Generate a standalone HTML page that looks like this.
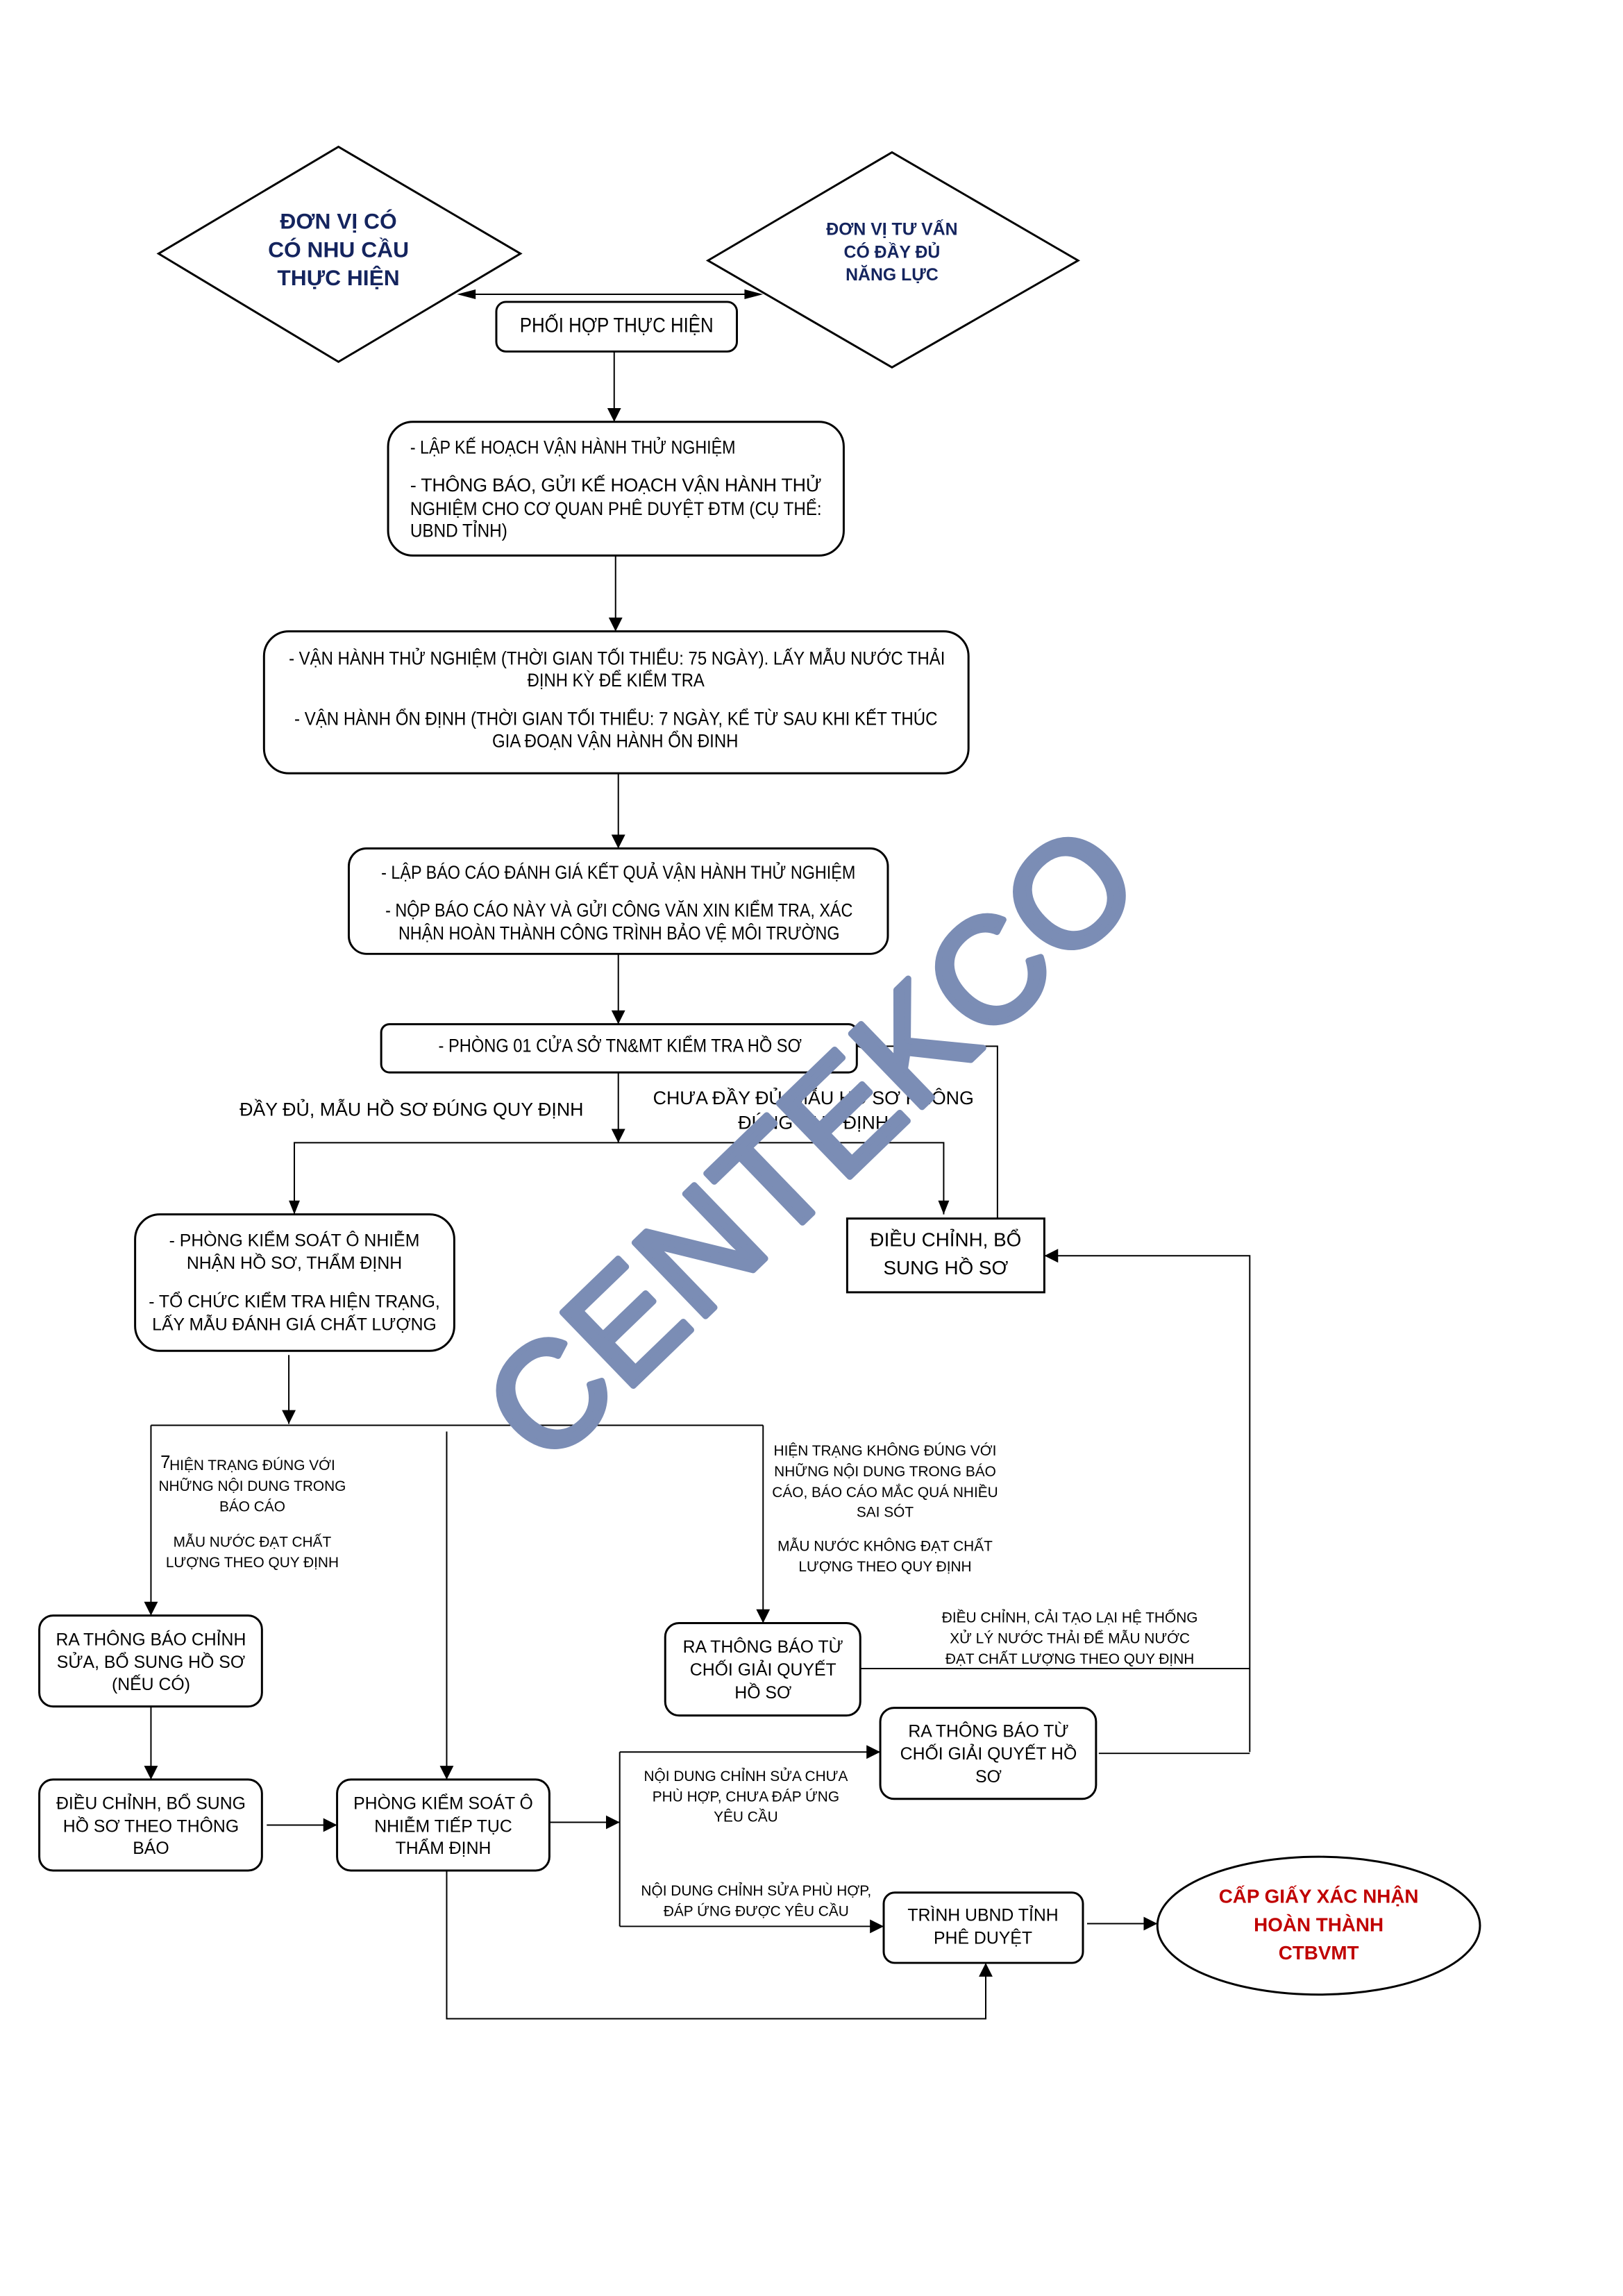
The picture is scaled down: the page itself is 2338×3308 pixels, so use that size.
<!DOCTYPE html>
<html><head><meta charset="utf-8"><style>
html,body{margin:0;padding:0;background:#fff;}
svg{display:block;}
text{font-family:"Liberation Sans",sans-serif;fill:#000;}
</style></head><body>
<svg width="2338" height="3308" viewBox="0 0 2338 3308" xmlns="http://www.w3.org/2000/svg">
<defs>
<marker id="A" viewBox="0 0 10 10" refX="10" refY="5" markerWidth="20" markerHeight="20" markerUnits="userSpaceOnUse" orient="auto"><path d="M0,0 L10,5 L0,10 z" fill="#000"/></marker>
</defs>
<g transform="scale(0.993)">
<g fill="none" stroke="#000" stroke-width="3">
<polygon points="230,368 491,213 755,368 491,525"/>
<polygon points="1027,378 1294,221 1564,378 1294,533"/>
<rect x="720" y="438" width="349" height="72" rx="14"/>
<rect x="563" y="612" width="661" height="194" rx="36"/>
<rect x="383" y="916" width="1022" height="206" rx="36"/>
<rect x="506" y="1231" width="782" height="153" rx="26"/>
<rect x="553" y="1486" width="690" height="70" rx="12"/>
<rect x="1229" y="1768" width="286" height="107"/>
<rect x="196" y="1762" width="463" height="198" rx="36"/>
<rect x="57" y="2344" width="323" height="132" rx="20"/>
<rect x="57" y="2582" width="323" height="132" rx="20"/>
<rect x="489" y="2582" width="308" height="132" rx="20"/>
<rect x="965" y="2355" width="283" height="134" rx="20"/>
<rect x="1277" y="2478" width="313" height="132" rx="20"/>
<rect x="1282" y="2746" width="289" height="102" rx="16"/>
<ellipse cx="1913" cy="2794" rx="234" ry="100"/>
</g>
<g fill="none" stroke="#000" stroke-width="2">
<line x1="680" y1="427" x2="1092" y2="427"/>
<path d="M690,420 L663,427 L690,434 z M1080,420 L1107,427 L1080,434 z" fill="#000" stroke="none"/>
<line x1="891" y1="510" x2="891" y2="612" marker-end="url(#A)"/>
<line x1="893" y1="806" x2="893" y2="916" marker-end="url(#A)"/>
<line x1="897" y1="1122" x2="897" y2="1231" marker-end="url(#A)"/>
<line x1="897" y1="1384" x2="897" y2="1486" marker-end="url(#A)"/>
<line x1="897" y1="1556" x2="897" y2="1658" marker-end="url(#A)"/>
<polyline points="427,1762 427,1658 1369,1658 1369,1762" />
<path d="M419,1742 L427,1762 L435,1742 z M1361,1742 L1369,1762 L1377,1742 z" fill="#000" stroke="none"/>
<polyline points="1447,1768 1447,1518 1243,1518" marker-end="url(#A)"/>
<polyline points="1813,2542 1813,1822 1515,1822" marker-end="url(#A)"/>
<line x1="419" y1="1966" x2="419" y2="2066" marker-end="url(#A)"/>
<line x1="219" y1="2068" x2="1107" y2="2068"/>
<line x1="219" y1="2068" x2="219" y2="2344" marker-end="url(#A)"/>
<line x1="648" y1="2077" x2="648" y2="2582" marker-end="url(#A)"/>
<line x1="1107" y1="2068" x2="1107" y2="2355" marker-end="url(#A)"/>
<line x1="219" y1="2476" x2="219" y2="2582" marker-end="url(#A)"/>
<line x1="387" y1="2648" x2="489" y2="2648" marker-end="url(#A)"/>
<line x1="797" y1="2644" x2="899" y2="2644" marker-end="url(#A)"/>
<line x1="899" y1="2542" x2="899" y2="2795"/>
<line x1="899" y1="2542" x2="1277" y2="2542" marker-end="url(#A)"/>
<line x1="899" y1="2795" x2="1282" y2="2795" marker-end="url(#A)"/>
<line x1="1248" y1="2421" x2="1813" y2="2421"/>
<line x1="1594" y1="2544" x2="1813" y2="2544"/>
<line x1="1577" y1="2791" x2="1679" y2="2791" marker-end="url(#A)"/>
<polyline points="648,2714 648,2929 1430,2929 1430,2848" marker-end="url(#A)"/>
</g>
<g font-weight="bold" text-anchor="middle">
<text x="491" y="332" font-size="32" style="fill:#14245e">ĐƠN VỊ CÓ</text>
<text x="491" y="373" font-size="32" style="fill:#14245e">CÓ NHU CẦU</text>
<text x="491" y="414" font-size="32" style="fill:#14245e">THỰC HIỆN</text>
<text x="1294" y="341" font-size="25" style="fill:#14245e">ĐƠN VỊ TƯ VẤN</text>
<text x="1294" y="374" font-size="25" style="fill:#14245e">CÓ ĐẦY ĐỦ</text>
<text x="1294" y="407" font-size="25" style="fill:#14245e">NĂNG LỰC</text>
</g>
<g font-size="27">
<text x="754" y="482" font-size="30" textLength="281" lengthAdjust="spacingAndGlyphs">PHỐI HỢP THỰC HIỆN</text>
<text x="595" y="658" textLength="472" lengthAdjust="spacingAndGlyphs">- LẬP KẾ HOẠCH VẬN HÀNH THỬ NGHIỆM</text>
<text x="595" y="713" textLength="597" lengthAdjust="spacing">- THÔNG BÁO, GỬI KẾ HOẠCH VẬN HÀNH THỬ</text>
<text x="595" y="747" textLength="597" lengthAdjust="spacingAndGlyphs">NGHIỆM CHO CƠ QUAN PHÊ DUYỆT ĐTM (CỤ THỂ:</text>
<text x="595" y="779" textLength="141" lengthAdjust="spacingAndGlyphs">UBND TỈNH)</text>
<text x="419" y="964" textLength="952" lengthAdjust="spacingAndGlyphs">- VẬN HÀNH THỬ NGHIỆM (THỜI GIAN TỐI THIỂU: 75 NGÀY). LẤY MẪU NƯỚC THẢI</text>
<text x="765" y="996" textLength="257" lengthAdjust="spacingAndGlyphs">ĐỊNH KỲ ĐỂ KIỂM TRA</text>
<text x="427" y="1052" textLength="933" lengthAdjust="spacingAndGlyphs">- VẬN HÀNH ỔN ĐỊNH (THỜI GIAN TỐI THIỂU: 7 NGÀY, KỂ TỪ SAU KHI KẾT THÚC</text>
<text x="714" y="1084" textLength="357" lengthAdjust="spacingAndGlyphs">GIA ĐOẠN VẬN HÀNH ỔN ĐINH</text>
<text x="553" y="1275" textLength="688" lengthAdjust="spacingAndGlyphs">- LẬP BÁO CÁO ĐÁNH GIÁ KẾT QUẢ VẬN HÀNH THỬ NGHIỆM</text>
<text x="559" y="1330" textLength="678" lengthAdjust="spacingAndGlyphs">- NỘP BÁO CÁO NÀY VÀ GỬI CÔNG VĂN XIN KIỂM TRA, XÁC</text>
<text x="578" y="1363" textLength="640" lengthAdjust="spacingAndGlyphs">NHẬN HOÀN THÀNH CÔNG TRÌNH BẢO VỆ MÔI TRƯỜNG</text>
<text x="636" y="1526" textLength="527" lengthAdjust="spacingAndGlyphs">- PHÒNG 01 CỬA SỞ TN&amp;MT KIỂM TRA HỒ SƠ</text>
</g>
<g font-size="27" text-anchor="middle">
<text x="597" y="1619">ĐẦY ĐỦ, MẪU HỒ SƠ ĐÚNG QUY ĐỊNH</text>
<text x="1180" y="1602">CHƯA ĐẦY ĐỦ, MẪU HỒ SƠ KHÔNG</text>
<text x="1180" y="1638">ĐÚNG QUY ĐỊNH</text>
<text x="1372" y="1808" font-size="28">ĐIỀU CHỈNH, BỔ</text>
<text x="1372" y="1849" font-size="28">SUNG HỒ SƠ</text>
</g>
<g font-size="25" text-anchor="middle">
<text x="427" y="1808">- PHÒNG KIỂM SOÁT Ô NHIỄM</text>
<text x="427" y="1841">NHẬN HỒ SƠ, THẨM ĐỊNH</text>
<text x="427" y="1897">- TỔ CHỨC KIỂM TRA HIỆN TRẠNG,</text>
<text x="427" y="1930">LẤY MẪU ĐÁNH GIÁ CHẤT LƯỢNG</text>
<text x="219" y="2387">RA THÔNG BÁO CHỈNH</text>
<text x="219" y="2420">SỬA, BỔ SUNG HỒ SƠ</text>
<text x="219" y="2452">(NẾU CÓ)</text>
<text x="219" y="2625">ĐIỀU CHỈNH, BỔ SUNG</text>
<text x="219" y="2658">HỒ SƠ THEO THÔNG</text>
<text x="219" y="2690">BÁO</text>
<text x="643" y="2625">PHÒNG KIỂM SOÁT Ô</text>
<text x="643" y="2658">NHIỄM TIẾP TỤC</text>
<text x="643" y="2690">THẨM ĐỊNH</text>
<text x="1107" y="2398">RA THÔNG BÁO TỪ</text>
<text x="1107" y="2431">CHỐI GIẢI QUYẾT</text>
<text x="1107" y="2464">HỒ SƠ</text>
<text x="1434" y="2520">RA THÔNG BÁO TỪ</text>
<text x="1434" y="2553">CHỐI GIẢI QUYẾT HỒ</text>
<text x="1434" y="2586">SƠ</text>
<text x="1426" y="2787">TRÌNH UBND TỈNH</text>
<text x="1426" y="2820">PHÊ DUYỆT</text>
</g>
<g font-size="21" text-anchor="middle">
<text x="240" y="2130" font-size="26">7</text>
<text x="366" y="2133">HIỆN TRẠNG ĐÚNG VỚI</text>
<text x="366" y="2163">NHỮNG NỘI DUNG TRONG</text>
<text x="366" y="2193">BÁO CÁO</text>
<text x="366" y="2244">MẪU NƯỚC ĐẠT CHẤT</text>
<text x="366" y="2274">LƯỢNG THEO QUY ĐỊNH</text>
<text x="1284" y="2112">HIỆN TRẠNG KHÔNG ĐÚNG VỚI</text>
<text x="1284" y="2142">NHỮNG NỘI DUNG TRONG BÁO</text>
<text x="1284" y="2172">CÁO, BÁO CÁO MẮC QUÁ NHIỀU</text>
<text x="1284" y="2201">SAI SÓT</text>
<text x="1284" y="2250">MẪU NƯỚC KHÔNG ĐẠT CHẤT</text>
<text x="1284" y="2280">LƯỢNG THEO QUY ĐỊNH</text>
<text x="1552" y="2354">ĐIỀU CHỈNH, CẢI TẠO LẠI HỆ THỐNG</text>
<text x="1552" y="2384">XỬ LÝ NƯỚC THẢI ĐỂ MẪU NƯỚC</text>
<text x="1552" y="2414">ĐẠT CHẤT LƯỢNG THEO QUY ĐỊNH</text>
<text x="1082" y="2584">NỘI DUNG CHỈNH SỬA CHƯA</text>
<text x="1082" y="2614">PHÙ HỢP, CHƯA ĐÁP ỨNG</text>
<text x="1082" y="2643">YÊU CẦU</text>
<text x="1097" y="2750">NỘI DUNG CHỈNH SỬA  PHÙ HỢP,</text>
<text x="1097" y="2780">ĐÁP ỨNG ĐƯỢC YÊU CẦU</text>
</g>
<g font-size="28" font-weight="bold" text-anchor="middle">
<text x="1913" y="2761" style="fill:#c00000">CẤP GIẤY XÁC NHẬN</text>
<text x="1913" y="2802" style="fill:#c00000">HOÀN THÀNH</text>
<text x="1913" y="2843" style="fill:#c00000">CTBVMT</text>
</g>
<text x="0" y="0" transform="translate(1228,1712) rotate(-44)" text-anchor="middle" font-size="215" textLength="1210" lengthAdjust="spacing" style="fill:#7b8db5;stroke:#7b8db5;stroke-width:9;stroke-linejoin:round">CENTEKCO</text>
</g>
</svg>
</body></html>
